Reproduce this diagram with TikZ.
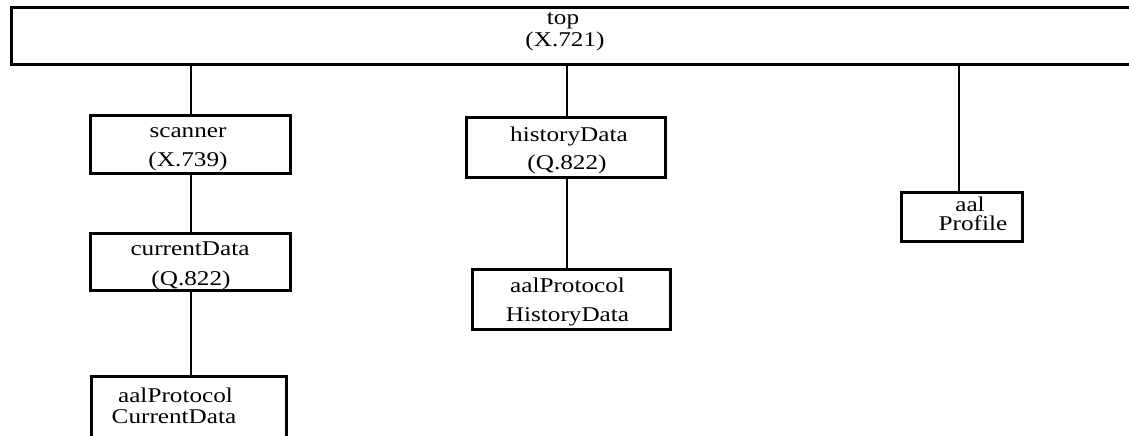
\documentclass[tikz,border=0pt]{standalone}
\usepackage{fontspec}
\setmainfont[FakeStretch=1.2]{Liberation Serif}
\begin{document}
\begin{tikzpicture}[x=1pt,y=-1pt,
  box/.style={draw, line width=3pt, inner sep=0pt, rectangle},
  link/.style={line width=2.6pt},
  txt/.style={anchor=base, inner sep=0pt, font=\fontsize{21}{24}\selectfont}]
\useasboundingbox (0,0) rectangle (1129,436);
% boxes
\node[box, minimum width=1139, minimum height=57] (top) at (580.5,36.5) {};
\node[box, minimum width=200, minimum height=58] (scanner) at (190,144) {};
\node[box, minimum width=200, minimum height=57] (current) at (190,262) {};
\node[box, minimum width=195, minimum height=69] (pcd) at (188.5,410.5) {};
\node[box, minimum width=199, minimum height=60] (history) at (565.5,147) {};
\node[box, minimum width=198, minimum height=60] (phd) at (571,299) {};
\node[box, minimum width=121, minimum height=49] (profile) at (961.5,216.5) {};
% texts
\node[txt] (topA) at (563,25) {top};
\node[txt] (topB) at (565,47) {(X.721)};
\node[txt] (scannerA) at (188,137) {scanner};
\node[txt] (scannerB) at (188,166) {(X.739)};
\node[txt] (currentA) at (190,255) {currentData};
\node[txt] (currentB) at (191,285) {(Q.822)};
\node[txt] (pcdA) at (175.5,402) {aalProtocol};
\node[txt] (pcdB) at (174,423) {CurrentData};
\node[txt] (historyA) at (569,141) {historyData};
\node[txt] (historyB) at (567,169) {(Q.822)};
\node[txt] (phdA) at (567.5,292) {aalProtocol};
\node[txt] (phdB) at (567.5,321) {HistoryData};
\node[txt] (profileA) at (970,211) {aal};
\node[txt] (profileB) at (973,230) {Profile};
% connectors
\coordinate (c1) at (191,0);
\coordinate (c2) at (567,0);
\coordinate (c3) at (959,0);
\draw[link] (top.south -| c1) -- (scanner.north -| c1);
\draw[link] (scanner.south -| c1) -- (current.north -| c1);
\draw[link] (current.south -| c1) -- (pcd.north -| c1);
\draw[link] (top.south -| c2) -- (history.north -| c2);
\draw[link] (history.south -| c2) -- (phd.north -| c2);
\draw[link] (top.south -| c3) -- (profile.north -| c3);
\end{tikzpicture}
\end{document}
